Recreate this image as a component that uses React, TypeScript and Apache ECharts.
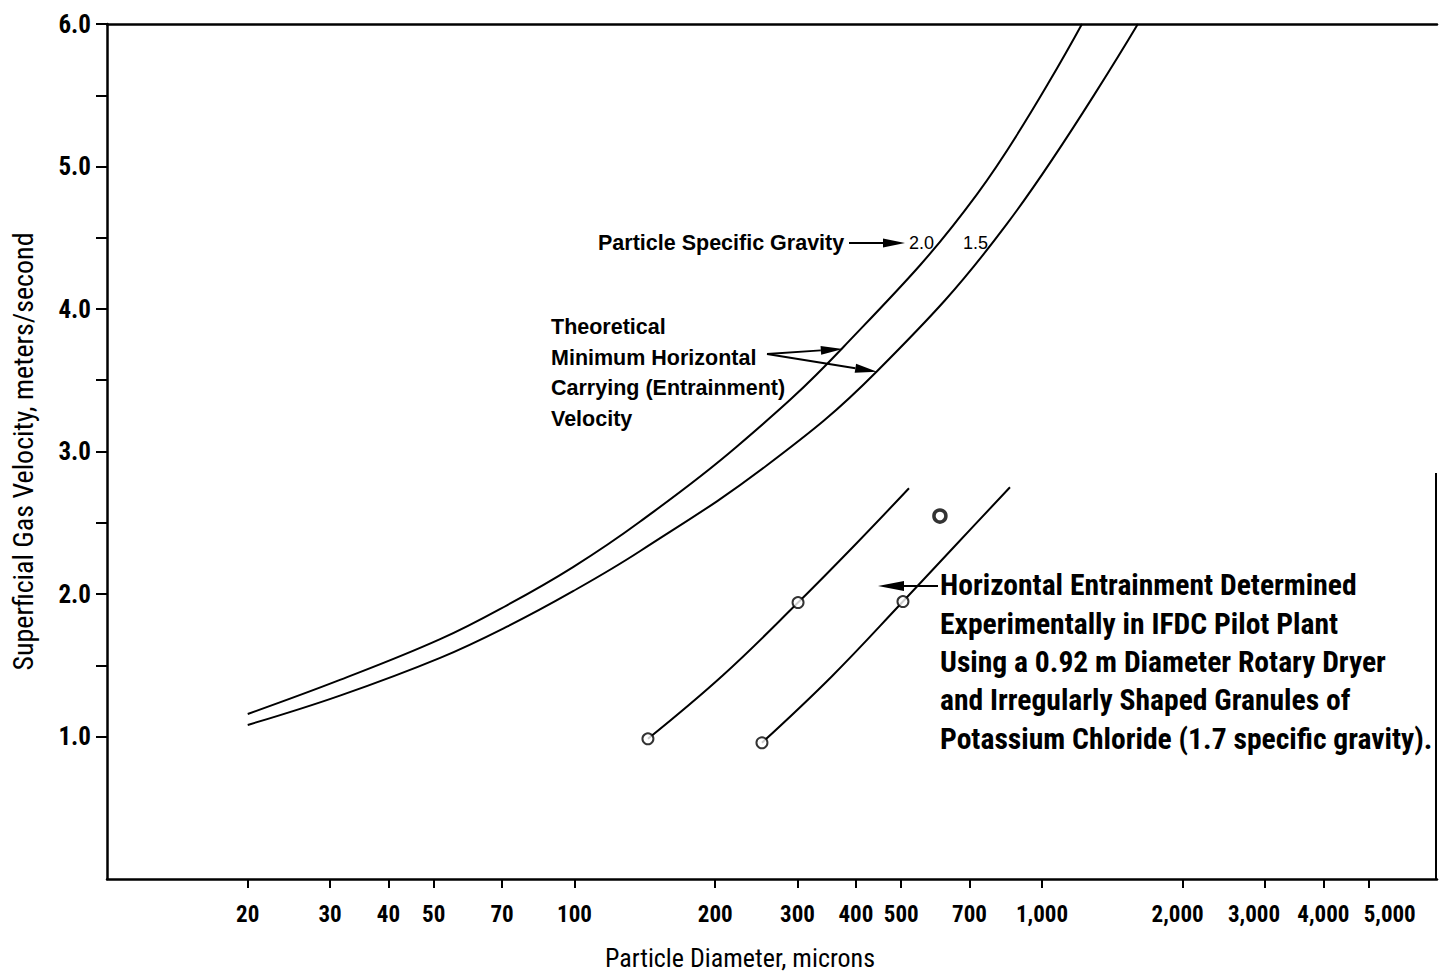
import React, { useEffect, useRef } from 'react';
import * as echarts from 'echarts';

// ---- axes ----
const X_MIN = 10;
const X_MAX = 7000;
const xTickDiameters = [20, 30, 40, 50, 70, 100, 200, 300, 400, 500, 700, 1000, 2000, 3000, 4000, 5000];
const yTickValues = [1, 1.5, 2, 2.5, 3, 3.5, 4, 4.5, 5, 5.5, 6];
const yLabelValues = [1, 2, 3, 4, 5, 6];

// ---- theoretical curves (particle specific gravity 2.0 and 1.5) ----
const sg20Diameter = [20, 31.5, 51.6, 71.7, 99.3, 138, 222.6, 375.3, 726, 1218];
const sg20Velocity = [1.158, 1.397, 1.683, 1.921, 2.189, 2.507, 3.035, 3.73, 4.805, 6.0];
const sg15Diameter = [20, 31.5, 51.6, 71.7, 99.3, 138, 258.1, 443.8, 841.6, 1604];
const sg15Velocity = [1.081, 1.287, 1.552, 1.771, 2.02, 2.3, 2.903, 3.563, 4.597, 6.0];

// ---- experimental lines ----
const exp1Diameter = [143.6, 207.8, 300.8, 398, 519.5];
const exp1Velocity = [0.984, 1.43, 1.94, 2.344, 2.742];
const exp2Diameter = [251.8, 355.5, 504.3, 651.3, 854.3];
const exp2Velocity = [0.956, 1.423, 1.947, 2.337, 2.749];

// ---- measured points ----
const pointDiameter = [143.6, 300.8, 251.8, 504.3];
const pointVelocity = [0.984, 1.94, 0.956, 1.947];
const extraPointDiameter = [605];
const extraPointVelocity = [2.547];

const SANS = "'Liberation Sans', Arial, sans-serif";
const COND = "'Roboto Condensed', 'Liberation Sans', sans-serif";

const lg = (v: number) => Math.log10(v);
const pairs = (xs: number[], ys: number[]) => xs.map((x, i) => [lg(x), ys[i]]);
const fmtDiameter = (d: number) => (d >= 1000 ? `${d / 1000},000` : `${d}`);

function arrow(x1: number, y1: number, x2: number, y2: number, headLen = 22, headW = 4.5) {
  const ang = Math.atan2(y2 - y1, x2 - x1);
  const bx = x2 - headLen * Math.cos(ang);
  const by = y2 - headLen * Math.sin(ang);
  const nx = -Math.sin(ang);
  const ny = Math.cos(ang);
  return [
    { type: 'line', shape: { x1, y1, x2: bx, y2: by }, style: { stroke: '#000', lineWidth: 2 }, silent: true },
    {
      type: 'polygon',
      shape: { points: [[x2, y2], [bx + nx * headW, by + ny * headW], [bx - nx * headW, by - ny * headW]] },
      style: { fill: '#000' },
      silent: true,
    },
  ];
}

export default function App() {
  const ref = useRef<HTMLDivElement>(null);

  useEffect(() => {
    if (!ref.current) return;
    const chart = echarts.init(ref.current, undefined, { renderer: 'svg' });
    const lineStyleBase = { color: '#000', width: 2 };
    const xLabelFont = { color: '#000', fontFamily: COND, fontWeight: 'bold' as const, fontSize: 23 };

    chart.setOption({
      animation: false,
      backgroundColor: '#fff',
      grid: { left: 107, right: 2, top: 24, bottom: 92 },
      xAxis: [
        {
          type: 'value',
          min: lg(X_MIN),
          max: lg(X_MAX),
          axisLine: { show: true, lineStyle: { color: '#000', width: 2.5 } },
          axisTick: { show: true, length: 9, lineStyle: { color: '#000', width: 2 }, customValues: xTickDiameters.map(lg) },
          axisLabel: {
            show: true,
            hideOverlap: false,
            showMaxLabel: true,
            showMinLabel: true,
            customValues: xTickDiameters.map(lg),
            formatter: (v: number) => {
              const d = Math.round(Math.pow(10, v));
              const t = fmtDiameter(d);
              if (d === 5000) return `{r|${t}}`;
              if (d === 3000) return `{l|${t}}`;
              if (d === 2000) return `{ls|${t}}`;
              return `{n|${t}}`;
            },
            ...xLabelFont,
            rich: {
              n: { ...xLabelFont },
              r: { ...xLabelFont, padding: [0, 0, 0, 42] },
              l: { ...xLabelFont, padding: [0, 22, 0, 0] },
              ls: { ...xLabelFont, padding: [0, 10, 0, 0] },
            },
            margin: 24,
          },
          splitLine: { show: false },
          name: 'Particle Diameter, microns',
          nameLocation: 'middle',
          nameGap: 66,
          nameTextStyle: { color: '#000', fontFamily: COND, fontSize: 26, padding: [0, 64, 0, 0] },
        },
        {
          type: 'value',
          position: 'top',
          min: lg(X_MIN),
          max: lg(X_MAX),
          axisLine: { show: true, lineStyle: { color: '#000', width: 2.5 } },
          axisTick: { show: false },
          axisLabel: { show: false },
          splitLine: { show: false },
        },
      ],
      yAxis: {
        type: 'value',
        min: 0,
        max: 6,
        axisLine: { show: true, lineStyle: { color: '#000', width: 2.5 } },
        axisTick: { show: true, length: 11, lineStyle: { color: '#000', width: 2 }, customValues: yTickValues },
        axisLabel: {
          show: true,
          showMaxLabel: true,
          showMinLabel: true,
          customValues: yLabelValues,
          formatter: (v: number) => v.toFixed(1),
          color: '#000',
          fontFamily: COND,
          fontWeight: 'bold',
          fontSize: 25,
          margin: 16,
        },
        splitLine: { show: false },
        name: 'Superficial Gas Velocity, meters/second',
        nameLocation: 'middle',
        nameGap: 70,
        nameRotate: 90,
        nameTextStyle: { color: '#000', fontFamily: COND, fontSize: 28 },
      },
      series: [
        { name: 'SG 2.0', type: 'line', data: pairs(sg20Diameter, sg20Velocity), smooth: 0.4, symbol: 'none', lineStyle: lineStyleBase, clip: true },
        { name: 'SG 1.5', type: 'line', data: pairs(sg15Diameter, sg15Velocity), smooth: 0.4, symbol: 'none', lineStyle: lineStyleBase, clip: true },
        { name: 'Experimental 1', type: 'line', data: pairs(exp1Diameter, exp1Velocity), smooth: 0.4, symbol: 'none', lineStyle: { color: '#000', width: 2 } },
        { name: 'Experimental 2', type: 'line', data: pairs(exp2Diameter, exp2Velocity), smooth: 0.4, symbol: 'none', lineStyle: { color: '#000', width: 2 } },
        {
          name: 'Points',
          type: 'scatter',
          data: pairs(pointDiameter, pointVelocity),
          symbol: 'circle',
          symbolSize: 11,
          itemStyle: { color: '#fff', borderColor: '#000', borderWidth: 2 },
          z: 5,
        },
        {
          name: 'Extra point',
          type: 'scatter',
          data: pairs(extraPointDiameter, extraPointVelocity),
          symbol: 'circle',
          symbolSize: 12,
          itemStyle: { color: '#fff', borderColor: '#000', borderWidth: 3.5 },
          z: 5,
        },
      ],
    });

    const P = (d: number, v: number) => chart.convertToPixel({ xAxisIndex: 0, yAxisIndex: 0 }, [lg(d), v]) as number[];
    const rightTop = P(X_MAX, 2.85);
    const rightBottom = P(X_MAX, 0);
    const tipUpper = P(375, 3.72);
    const tipLower = P(444, 3.56);

    const graphic: any[] = [
      { type: 'line', shape: { x1: rightTop[0] - 1, y1: rightTop[1], x2: rightBottom[0] - 1, y2: rightBottom[1] }, style: { stroke: '#000', lineWidth: 2 }, silent: true },
      {
        type: 'text',
        style: { text: 'Particle Specific Gravity', x: 598, y: 243, fontFamily: SANS, fontWeight: 'bold', fontSize: 21.5, fill: '#000', verticalAlign: 'middle', align: 'left' },
      },
      ...arrow(849, 243, 905, 243),
      { type: 'text', style: { text: '2.0', x: 909, y: 243, fontFamily: SANS, fontSize: 18, fill: '#000', verticalAlign: 'middle' } },
      { type: 'text', style: { text: '1.5', x: 963, y: 243, fontFamily: SANS, fontSize: 18, fill: '#000', verticalAlign: 'middle' } },
      {
        type: 'text',
        style: {
          text: 'Theoretical\nMinimum Horizontal\nCarrying (Entrainment)\nVelocity',
          x: 551,
          y: 312,
          lineHeight: 30.5,
          fontFamily: SANS,
          fontWeight: 'bold',
          fontSize: 21.5,
          fill: '#000',
          verticalAlign: 'top',
        },
      },
      ...arrow(767, 354, tipUpper[0], tipUpper[1]),
      ...arrow(767, 354, tipLower[0], tipLower[1]),
      {
        type: 'text',
        style: {
          text:
            'Horizontal Entrainment Determined\nExperimentally in IFDC Pilot Plant\nUsing a 0.92 m Diameter Rotary Dryer\nand Irregularly Shaped Granules of\nPotassium Chloride (1.7 specific gravity).',
          x: 940,
          y: 566,
          lineHeight: 38.4,
          fontFamily: COND,
          fontWeight: 'bold',
          fontSize: 29.6,
          fill: '#000',
          verticalAlign: 'top',
        },
      },
      ...arrow(938, 586, 878, 586, 26, 5),
    ];
    chart.setOption({ graphic });

    return () => chart.dispose();
  }, []);

  return <div ref={ref} style={{ position: 'absolute', left: 0, top: 0, width: 1439, height: 976 }} />;
}
